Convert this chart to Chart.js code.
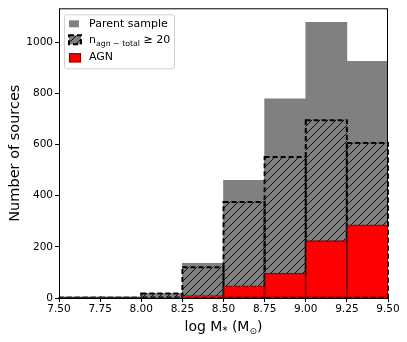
<!DOCTYPE html>
<html><head><meta charset="utf-8">
<script src="https://cdn.jsdelivr.net/npm/chart.js@4/dist/chart.umd.min.js"></script>
<style>html,body{margin:0;padding:0;background:#fff}#w{width:407px;height:342px}</style>
</head><body><div id="w"><canvas id="c" width="407" height="342"></canvas></div>
<script>
// ---- data ----
const binCenters = [7.625, 7.875, 8.125, 8.375, 8.625, 8.875, 9.125, 9.375];
const parentSample = [2, 2, 18, 135, 460, 778, 1077, 925];
const nagnTotalGe20 = [1, 1, 18, 120, 375, 551, 695, 606];
const agnCounts = [1, 1, 2, 9, 48, 97, 224, 286];
const xTickValues = [7.5, 7.75, 8.0, 8.25, 8.5, 8.75, 9.0, 9.25, 9.5];
const yTickValues = [0, 200, 400, 600, 800, 1000];
const legendLabels = ['Parent sample', 'n', 'AGN'];

const FONT = "'DejaVu Sans', sans-serif";
const GRAY = '#808080';

function makeHatch() {
  const s = 8;
  const p = document.createElement('canvas');
  p.width = s; p.height = s;
  const g = p.getContext('2d');
  g.fillStyle = GRAY; g.fillRect(0, 0, s, s);
  g.strokeStyle = '#000'; g.lineWidth = 0.9;
  g.beginPath();
  g.moveTo(0, s); g.lineTo(s, 0);
  g.moveTo(-s / 2, s / 2); g.lineTo(s / 2, -s / 2);
  g.moveTo(s / 2, s + s / 2); g.lineTo(s + s / 2, s / 2);
  g.stroke();
  return document.getElementById('c').getContext('2d').createPattern(p, 'repeat');
}
const hatch = makeHatch();

const toXY = arr => arr.map((v, i) => ({ x: binCenters[i], y: v }));

const overlay = {
  id: 'overlay',
  afterDatasetDraw(chart, args) {
    if (args.index !== 1) return;
    const ctx = chart.ctx;
    const meta = chart.getDatasetMeta(1);
    ctx.save();
    ctx.strokeStyle = '#000'; ctx.lineWidth = 2; ctx.setLineDash([5, 3]);
    meta.data.forEach(el => {
      const p = el.getProps(['x', 'y', 'base', 'width'], true);
      ctx.strokeRect(p.x - p.width / 2, p.y, p.width, p.base - p.y);
    });
    ctx.restore();
  },
  afterDatasetsDraw(chart) {
    const ctx = chart.ctx, a = chart.chartArea;
    ctx.save();
    ctx.strokeStyle = '#000'; ctx.lineWidth = 1;
    ctx.strokeRect(a.left + 0.5, a.top + 0.5, a.right - a.left - 1, a.bottom - a.top);
    ctx.restore();
  },
  afterDraw(chart) {
    const ctx = chart.ctx, a = chart.chartArea;
    ctx.save();
    // legend box
    const lx = a.left + 5, ly = a.top + 6, lw = 110, lh = 54;
    ctx.fillStyle = 'rgba(255,255,255,0.8)';
    ctx.strokeStyle = '#d0d0d0'; ctx.lineWidth = 1;
    ctx.beginPath(); ctx.roundRect(lx + 0.5, ly + 0.5, lw, lh, 2); ctx.fill(); ctx.stroke();
    // handles
    ctx.fillStyle = GRAY; ctx.fillRect(lx + 5, ly + 6, 10, 7);
    ctx.fillStyle = hatch; ctx.fillRect(lx + 5, ly + 21, 12, 9);
    ctx.strokeStyle = '#000'; ctx.lineWidth = 2; ctx.setLineDash([5, 3]);
    ctx.strokeRect(lx + 5, ly + 21, 12, 9);
    ctx.setLineDash([]);
    ctx.fillStyle = '#ff0000'; ctx.fillRect(lx + 5, ly + 39, 12, 9);
    ctx.strokeStyle = '#8b0000'; ctx.lineWidth = 1.2; ctx.strokeRect(lx + 5.5, ly + 39.5, 11, 8);
    // texts
    ctx.fillStyle = '#000'; ctx.textBaseline = 'middle'; ctx.textAlign = 'left';
    const tx = lx + 25;
    ctx.font = '11px ' + FONT;
    ctx.fillText(legendLabels[0], tx, ly + 10);
    ctx.fillText(legendLabels[1], tx, ly + 26);
    let w = ctx.measureText(legendLabels[1]).width;
    ctx.font = '7.8px ' + FONT;
    const sub = 'agn \u2212 total';
    ctx.fillText(sub, tx + w, ly + 29.5);
    w += ctx.measureText(sub).width;
    ctx.font = '11px ' + FONT;
    ctx.fillText(' \u2265 20', tx + w, ly + 26);
    ctx.fillText(legendLabels[2], tx, ly + 43);
    // axis titles
    ctx.textAlign = 'center';
    ctx.save();
    ctx.translate(15, (a.top + a.bottom) / 2);
    ctx.rotate(-Math.PI / 2);
    ctx.font = '14.5px ' + FONT;
    ctx.fillText('Number of sources', 0, 0);
    ctx.restore();
    // x title with subscripts
    const parts = [['log M', 14, 0], ['*', 10, 3], [' (M', 14, 0], ['\u2299', 9, 3], [')', 14, 0]];
    let total = 0;
    parts.forEach(p => { ctx.font = p[1] + 'px ' + FONT; p.push(ctx.measureText(p[0]).width); total += p[3]; });
    let x = (a.left + a.right) / 2 - total / 2;
    ctx.textAlign = 'left'; ctx.textBaseline = 'alphabetic';
    parts.forEach(p => { ctx.font = p[1] + 'px ' + FONT; ctx.fillText(p[0], x, 331 + p[2]); x += p[3]; });
    ctx.restore();
  }
};

new Chart(document.getElementById('c'), {
  type: 'bar',
  data: {
    datasets: [
      { label: 'Parent sample', data: toXY(parentSample), backgroundColor: GRAY, borderWidth: 0, order: 3 },
      { label: 'n_agn-total >= 20', data: toXY(nagnTotalGe20), backgroundColor: hatch, borderWidth: 0, order: 2 },
      { label: 'AGN', data: toXY(agnCounts), backgroundColor: '#ff0000', borderColor: '#8b0000', borderWidth: 1.3, borderSkipped: false, order: 1 }
    ]
  },
  options: {
    responsive: false,
    animation: false,
    devicePixelRatio: 1,
    layout: { padding: { left: 0, top: 6, right: 19, bottom: 0 } },
    datasets: { bar: { grouped: false, barPercentage: 1, categoryPercentage: 1 } },
    plugins: { legend: { display: false }, tooltip: { enabled: false } },
    scales: {
      x: {
        type: 'linear', min: 7.5, max: 9.5, offset: false,
        afterFit: s => { s.height = 44; },
        afterBuildTicks: s => { s.ticks = xTickValues.map(v => ({ value: v })); },
        grid: { drawOnChartArea: false, drawTicks: true, tickLength: 4, color: '#000', offset: false },
        border: { display: false },
        ticks: { color: '#000', font: { family: FONT, size: 10.5 }, padding: 1, maxRotation: 0, autoSkip: false,
          callback: v => Number(v).toFixed(2) }
      },
      y: {
        type: 'linear', min: 0, max: 1132,
        afterFit: s => { s.width = 59; },
        afterBuildTicks: s => { s.ticks = yTickValues.map(v => ({ value: v })); },
        grid: { drawOnChartArea: false, drawTicks: true, tickLength: 4, color: '#000' },
        border: { display: false },
        ticks: { color: '#000', font: { family: FONT, size: 10.5 }, padding: 2, callback: v => String(v) }
      }
    }
  },
  plugins: [overlay]
});
</script></body></html>
